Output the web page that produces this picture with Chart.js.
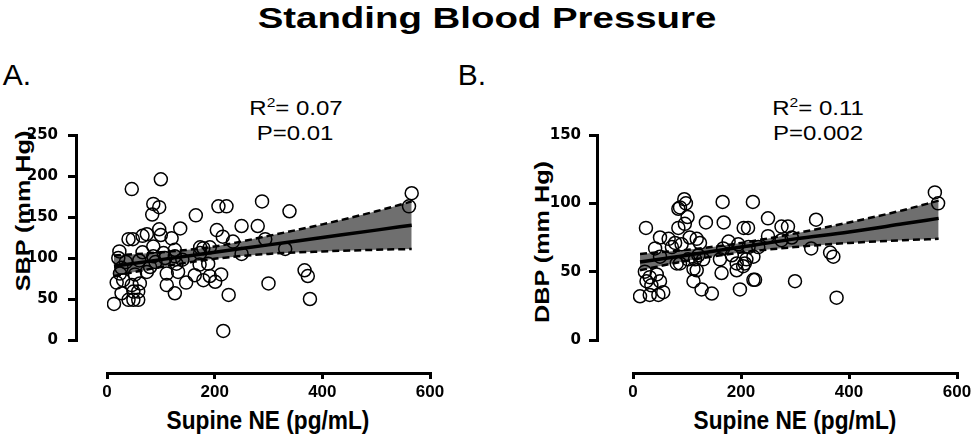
<!DOCTYPE html>
<html lang="en">
<head>
  <meta charset="UTF-8" />
  <title>Standing Blood Pressure</title>
  <script src="https://cdn.jsdelivr.net/npm/chart.js"></script>
  <style>
    body { margin: 0; background: #fff; }
    #wrap { position: relative; width: 975px; height: 441px; overflow: hidden; font-family: 'Liberation Sans', Arial, sans-serif; color: #000; }
    canvas { position: absolute; }
    .t { position: absolute; white-space: nowrap; line-height: 1; transform: translate(-50%, -50%) scaleX(1.2); }
    .vt { position: absolute; white-space: nowrap; line-height: 1; font-weight: bold; font-size: 21px; transform: translate(-50%, -50%) rotate(-90deg) scaleX(1.2); }
    .xt { position: absolute; white-space: nowrap; line-height: 1; font-weight: bold; font-size: 21px; transform: translate(-50%, -50%) scale(1.08, 1.25); }
    .ax { position: absolute; background: #000; }
  </style>
</head>
<body>
  <div id="wrap">
    <div class="t" style="left:487px; top:18px; font-size:30px; font-weight:bold; transform: translate(-50%,-50%) scaleX(1.28);">Standing Blood Pressure</div>
    <div class="t" style="left:17px; top:75px; font-size:30px; transform: translate(-50%,-50%);">A.</div>
    <div class="t" style="left:472px; top:75px; font-size:30px; transform: translate(-50%,-50%);">B.</div>
    <div class="t" style="left:296px; top:107px; font-size:20px;">R<sup style="font-size:13px;">2</sup>= 0.07</div>
    <div class="t" style="left:295px; top:133px; font-size:20px;">P=0.01</div>
    <div class="t" style="left:818px; top:107px; font-size:20px;">R<sup style="font-size:13px;">2</sup>= 0.11</div>
    <div class="t" style="left:818px; top:133px; font-size:20px;">P=0.002</div>
    <div class="vt" style="left:22px; top:211px;">SBP (mm Hg)</div>
    <div class="vt" style="left:541px; top:242px;">DBP (mm Hg)</div>
    <div class="xt" style="left:268px; top:420px;">Supine NE (pg/mL)</div>
    <div class="xt" style="left:795px; top:420px;">Supine NE (pg/mL)</div>
    <canvas id="chartA" style="left:0; top:115px;" width="470" height="326"></canvas>
    <canvas id="chartB" style="left:490px; top:115px;" width="485" height="326"></canvas>
  </div>

  <script>
    // Panel A - SBP vs supine NE
    const sbpNE  = [100, 46, 86, 97, 84, 165, 207, 222, 288, 136, 250, 280, 204, 215, 234, 40, 48, 66, 74, 97,
                    100, 120, 23, 66, 86, 105, 126, 173, 179, 191, 86, 108, 126, 172, 188, 27, 74, 111, 132, 163,
                    179, 191, 201, 212, 147, 111, 30, 46, 61, 27, 49, 58, 40, 49, 58, 13, 126, 226, 300, 216,
                    21, 24, 80, 129, 250, 173, 566, 561, 339, 294, 331, 367, 373, 377, 35, 18, 52, 90, 140, 60];
    const sbpVal = [196, 184, 166, 162, 153, 152, 163, 163, 169, 136, 139, 139, 134, 126, 120, 123, 123, 127, 129, 135,
                    128, 124, 108, 107, 114, 106, 110, 113, 112, 113, 102, 100, 102, 92, 93, 88, 83, 81, 83, 79,
                    73, 78, 71, 80, 70, 67, 73, 67, 69, 57, 59, 59, 49, 49, 49, 44, 57, 55, 69, 11,
                    100, 81, 89, 93, 105, 106, 179, 163, 157, 123, 111, 85, 78, 50, 95, 70, 80, 95, 98, 97];
    const sbpBandX = [13, 100, 200, 300, 400, 500, 566];
    const sbpFit   = [90, 98, 107, 116, 125, 134, 140];
    const sbpUpper = [103, 107, 114, 127, 141, 157, 169];
    const sbpLower = [78, 89, 99, 105, 108, 110, 111];

    // Panel B - DBP vs supine NE
    const dbpNE  = [24, 95, 98, 87, 84, 101, 96, 135, 166, 222, 168, 205, 213, 84, 50, 66, 78, 90, 105, 118,
                    124, 41, 50, 72, 87, 102, 115, 121, 130, 118, 112, 177, 195, 214, 167, 161, 183, 192, 210, 223,
                    204, 164, 192, 223, 198, 22, 31, 44, 25, 34, 50, 56, 47, 31, 13, 112, 127, 146, 81, 559,
                    565, 250, 275, 287, 339, 250, 275, 294, 232, 330, 365, 371, 207, 226, 300, 377];
    const dbpVal = [82, 103, 100, 97, 96, 90, 85, 86, 101, 101, 86, 82, 82, 82, 75, 74, 71, 70, 75, 74,
                    71, 67, 61, 68, 56, 59, 59, 62, 59, 51, 52, 72, 70, 68, 67, 59, 62, 56, 59, 61,
                    54, 49, 51, 44, 37, 50, 46, 48, 43, 40, 43, 35, 33, 33, 32, 43, 37, 34, 56, 108,
                    100, 89, 83, 83, 88, 76, 73, 75, 68, 67, 64, 61, 56, 44, 43, 31];
    const dbpBandX = [13, 100, 200, 300, 400, 500, 566];
    const dbpFit   = [57, 62, 68, 74, 79, 85, 89];
    const dbpUpper = [63, 66, 71, 78, 86, 95, 102];
    const dbpLower = [51, 58, 64, 68, 71, 73, 74];

    const xTicks = [0, 200, 400, 600];

    const pts = (xs, ys) => xs.map((x, i) => ({ x: x, y: ys[i] }));
    const noPad = s => { s.paddingLeft = 0; s.paddingRight = 0; s.paddingTop = 0; s.paddingBottom = 0; };

    function bar(l, t, w, h) {
      const d = document.createElement('div');
      d.className = 'ax';
      d.style.cssText = `left:${l}px; top:${t}px; width:${w}px; height:${h}px;`;
      document.getElementById('wrap').appendChild(d);
    }

    // Prism-style detached axes, placed from the chart's own scales
    function detachedAxes(chart, yGap, xGap) {
      const c = chart.canvas, ox = c.offsetLeft, oy = c.offsetTop;
      const sx = chart.scales.x, sy = chart.scales.y, ca = chart.chartArea;
      const ax = ox + ca.left - yGap, ay = oy + ca.bottom + xGap;
      const yTop = oy + sy.getPixelForValue(sy.max), yBot = oy + sy.getPixelForValue(sy.min);
      const x0 = ox + sx.getPixelForValue(sx.min), x1 = ox + sx.getPixelForValue(sx.max);
      bar(ax - 1.5, yTop - 1.5, 3, yBot - yTop + 3);
      sy.ticks.forEach(t => bar(ax - 8, oy + sy.getPixelForValue(t.value) - 1.5, 8, 3));
      bar(x0 - 1.5, ay - 1.5, x1 - x0 + 3, 3);
      xTicks.forEach(v => bar(ox + sx.getPixelForValue(v) - 1.5, ay, 3, 6));
    }

    function makePanel(id, xs, ys, bx, fit, up, lo, yMax, yStep, box) {
      const chart = new Chart(document.getElementById(id), {
        type: 'scatter',
        data: {
          datasets: [
            {
              data: pts(xs, ys), order: 0,
              pointStyle: 'circle', pointRadius: 6.5, borderWidth: 1.5,
              borderColor: '#000', backgroundColor: 'rgba(0,0,0,0)'
            },
            {
              type: 'line', data: pts(bx, fit), order: 1,
              borderColor: '#000', borderWidth: 3.5, pointRadius: 0,
              cubicInterpolationMode: 'monotone', fill: false
            },
            {
              type: 'line', data: pts(bx, lo), order: 2,
              borderColor: '#000', borderWidth: 2.5, borderDash: [7, 4], pointRadius: 0,
              cubicInterpolationMode: 'monotone', fill: false
            },
            {
              type: 'line', data: pts(bx, up), order: 3,
              borderColor: '#000', borderWidth: 2.5, borderDash: [7, 4], pointRadius: 0,
              cubicInterpolationMode: 'monotone', fill: '-1', backgroundColor: '#6f6f6f'
            }
          ]
        },
        options: {
          responsive: false,
          animation: false,
          layout: { padding: box.pad },
          plugins: { legend: { display: false }, tooltip: { enabled: false } },
          scales: {
            x: {
              type: 'linear', min: 0, max: 600,
              afterBuildTicks: s => { s.ticks = xTicks.map(v => ({ value: v })); },
              afterFit: s => { s.height = box.xH; noPad(s); },
              grid: { display: false }, border: { display: false },
              ticks: { padding: 36, color: '#000', maxRotation: 0, font: { family: "'Liberation Sans', Arial", weight: 'bold', size: 17, lineHeight: 1 } }
            },
            y: {
              min: 0, max: yMax,
              ticks: { stepSize: yStep, padding: box.yPad, color: '#000', font: { family: "'DejaVu Sans', Arial", weight: 'bold', size: 15 } },
              afterFit: s => { s.width = box.yW; noPad(s); },
              grid: { display: false }, border: { display: false }
            }
          }
        }
      });
      detachedAxes(chart, box.yGap, 33);
      return chart;
    }

    makePanel('chartA', sbpNE, sbpVal, sbpBandX, sbpFit, sbpUpper, sbpLower, 250, 50,
      { pad: { left: 0, top: 20, right: 40, bottom: 0 }, xH: 101, yW: 107, yPad: 41, yGap: 31 });
    makePanel('chartB', dbpNE, dbpVal, dbpBandX, dbpFit, dbpUpper, dbpLower, 150, 50,
      { pad: { left: 0, top: 20, right: 18, bottom: 0 }, xH: 101, yW: 143, yPad: 44, yGap: 36 });
  </script>
</body>
</html>
